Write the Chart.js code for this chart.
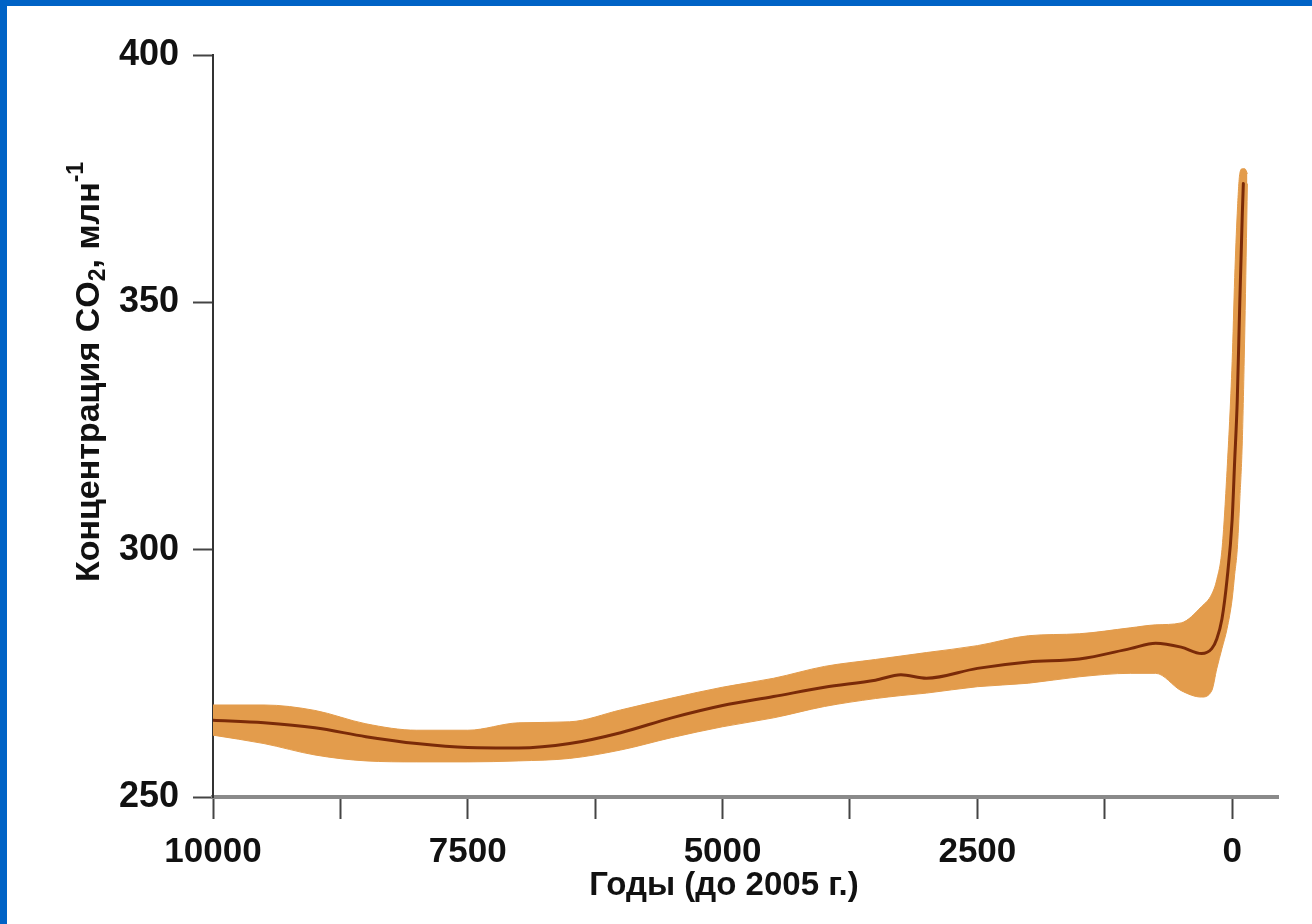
<!DOCTYPE html>
<html>
<head>
<meta charset="utf-8">
<script src="https://cdn.jsdelivr.net/npm/chart.js@4/dist/chart.umd.min.js"></script>
<style>
  html, body { margin: 0; padding: 0; background: #0063c6; width: 1312px; height: 924px; overflow: hidden; }
  #frame { position: absolute; left: 7px; top: 6px; width: 1305px; height: 918px; background: #fff; }
</style>
</head>
<body>
<div id="frame"><canvas id="co2-chart" width="1305" height="918"></canvas></div>
<script>
// годы до 2005 г.
const years = [10000, 9500, 9000, 8500, 8000, 7500, 7000, 6500, 6000, 5500, 5000, 4500, 4000, 3500, 3250, 3000,
  2500, 2000, 1500, 1000, 750, 500, 300, 200, 150, 100, 50, 0, -25, -50, -75, -100, -110];
// концентрация CO2, средняя линия
const co2 = [265.5, 265, 264, 262.2, 260.8, 260, 259.9, 260.8, 263, 266, 268.5, 270.3, 272.2, 273.6, 274.7, 274,
  276, 277.3, 277.9, 280, 281.1, 280.3, 279, 280, 282, 286, 294, 306, 318, 330, 350, 368, 374];

// годы для полосы неопределенности
const bandYears = [10000, 9500, 9000, 8500, 8000, 7500, 7000, 6500, 6000, 5500, 5000, 4500, 4000, 3500, 3250, 3000,
  2500, 2000, 1500, 1000, 750, 500, 300, 200, 150, 100, 50, 0, -25, -50, -75, -100, -125, -150];
const co2Upper = [268.6, 268.6, 267.5, 264.8, 263.5, 263.5, 265, 265.2, 267.6, 270, 272.2, 274, 276.4, 277.8, 278.5, 279.2,
  280.6, 282.6, 283, 284.2, 284.8, 285.2, 288.5, 291, 294, 300, 316, 338, 355, 368, 376, 377, 377, 376];
const co2Lower = [262.5, 260.8, 258.5, 257.3, 257.1, 257.1, 257.3, 257.8, 259.5, 262, 264.2, 266, 268.3, 269.9, 270.5, 271,
  272.3, 273, 274.3, 275, 275, 271.5, 270.2, 271.5, 276, 280, 284, 290, 295, 300, 310, 322, 345, 374];

const xTicks = [0, 1250, 2500, 3750, 5000, 6250, 7500, 8750, 10000];
const xLabeled = [0, 2500, 5000, 7500, 10000];
const yTicks = [250, 300, 350, 400];

const toPoints = (xs, vals) => xs.map((x, i) => ({ x: x, y: vals[i] }));

const bandColor = '#e39c4c';
const lineColor = '#7a2a08';
const fontFamily = '"Liberation Sans", Arial, sans-serif';

// подписи осей с индексами
const axisTitles = {
  id: 'axisTitles',
  afterDraw(chart) {
    const ctx = chart.ctx;
    const drawParts = (parts, cx, cy, rotate) => {
      ctx.save();
      ctx.translate(cx, cy);
      if (rotate) ctx.rotate(-Math.PI / 2);
      ctx.fillStyle = '#111';
      ctx.textBaseline = 'middle';
      let total = 0;
      parts.forEach(p => {
        ctx.font = `bold ${p.size}px ${fontFamily}`;
        p.w = ctx.measureText(p.t).width;
        total += p.w;
      });
      let x = -total / 2;
      parts.forEach(p => {
        ctx.font = `bold ${p.size}px ${fontFamily}`;
        ctx.fillText(p.t, x, p.dy || 0);
        x += p.w;
      });
      ctx.restore();
    };
    drawParts([
      { t: 'Концентрация CO', size: 34 },
      { t: '2', size: 23, dy: 9 },
      { t: ', млн', size: 34 },
      { t: '-1', size: 23, dy: -13 }
    ], 83, 366, true);
    drawParts([{ t: 'Годы (до 2005 г.)', size: 33 }], 717, 880, false);
  }
};

new Chart(document.getElementById('co2-chart'), {
  type: 'line',
  data: {
    datasets: [
      {
        data: toPoints(bandYears, co2Upper),
        borderColor: bandColor,
        borderWidth: 1,
        pointRadius: 0,
        fill: false,
        cubicInterpolationMode: 'monotone',
        order: 2
      },
      {
        data: toPoints(bandYears, co2Lower),
        borderColor: bandColor,
        borderWidth: 1,
        backgroundColor: bandColor,
        pointRadius: 0,
        fill: '-1',
        cubicInterpolationMode: 'monotone',
        order: 1
      },
      {
        data: toPoints(years, co2),
        borderColor: lineColor,
        borderWidth: 3,
        borderCapStyle: 'round',
        pointRadius: 0,
        fill: false,
        cubicInterpolationMode: 'monotone',
        order: 0
      }
    ]
  },
  options: {
    responsive: false,
    animation: false,
    layout: { padding: { left: 0, top: 49, right: 34, bottom: 0 } },
    plugins: {
      legend: { display: false },
      tooltip: { enabled: false }
    },
    scales: {
      x: {
        type: 'linear',
        reverse: true,
        min: -450,
        max: 10000,
        afterBuildTicks: (scale) => { scale.ticks = xTicks.map(v => ({ value: v })); },
        afterFit: (scale) => { scale.height = 127; },
        border: { display: true, color: '#8a8a8a', width: 4 },
        grid: { drawOnChartArea: false, drawTicks: true, tickLength: 22, tickColor: '#444', tickWidth: 2 },
        ticks: {
          autoSkip: false,
          maxRotation: 0,
          padding: 12,
          color: '#111',
          font: { family: fontFamily, size: 35, weight: 'bold' },
          callback: (v) => xLabeled.includes(v) ? String(v) : ''
        }
      },
      y: {
        min: 250,
        max: 400,
        afterBuildTicks: (scale) => { scale.ticks = yTicks.map(v => ({ value: v })); },
        afterFit: (scale) => { scale.width = 206; },
        border: { display: true, color: '#333', width: 2 },
        grid: { drawOnChartArea: false, drawTicks: true, tickLength: 20, tickColor: '#444', tickWidth: 2 },
        ticks: {
          padding: 14,
          color: '#111',
          font: { family: fontFamily, size: 36, weight: 'bold' }
        }
      }
    }
  },
  plugins: [axisTitles]
});
</script>
</body>
</html>
